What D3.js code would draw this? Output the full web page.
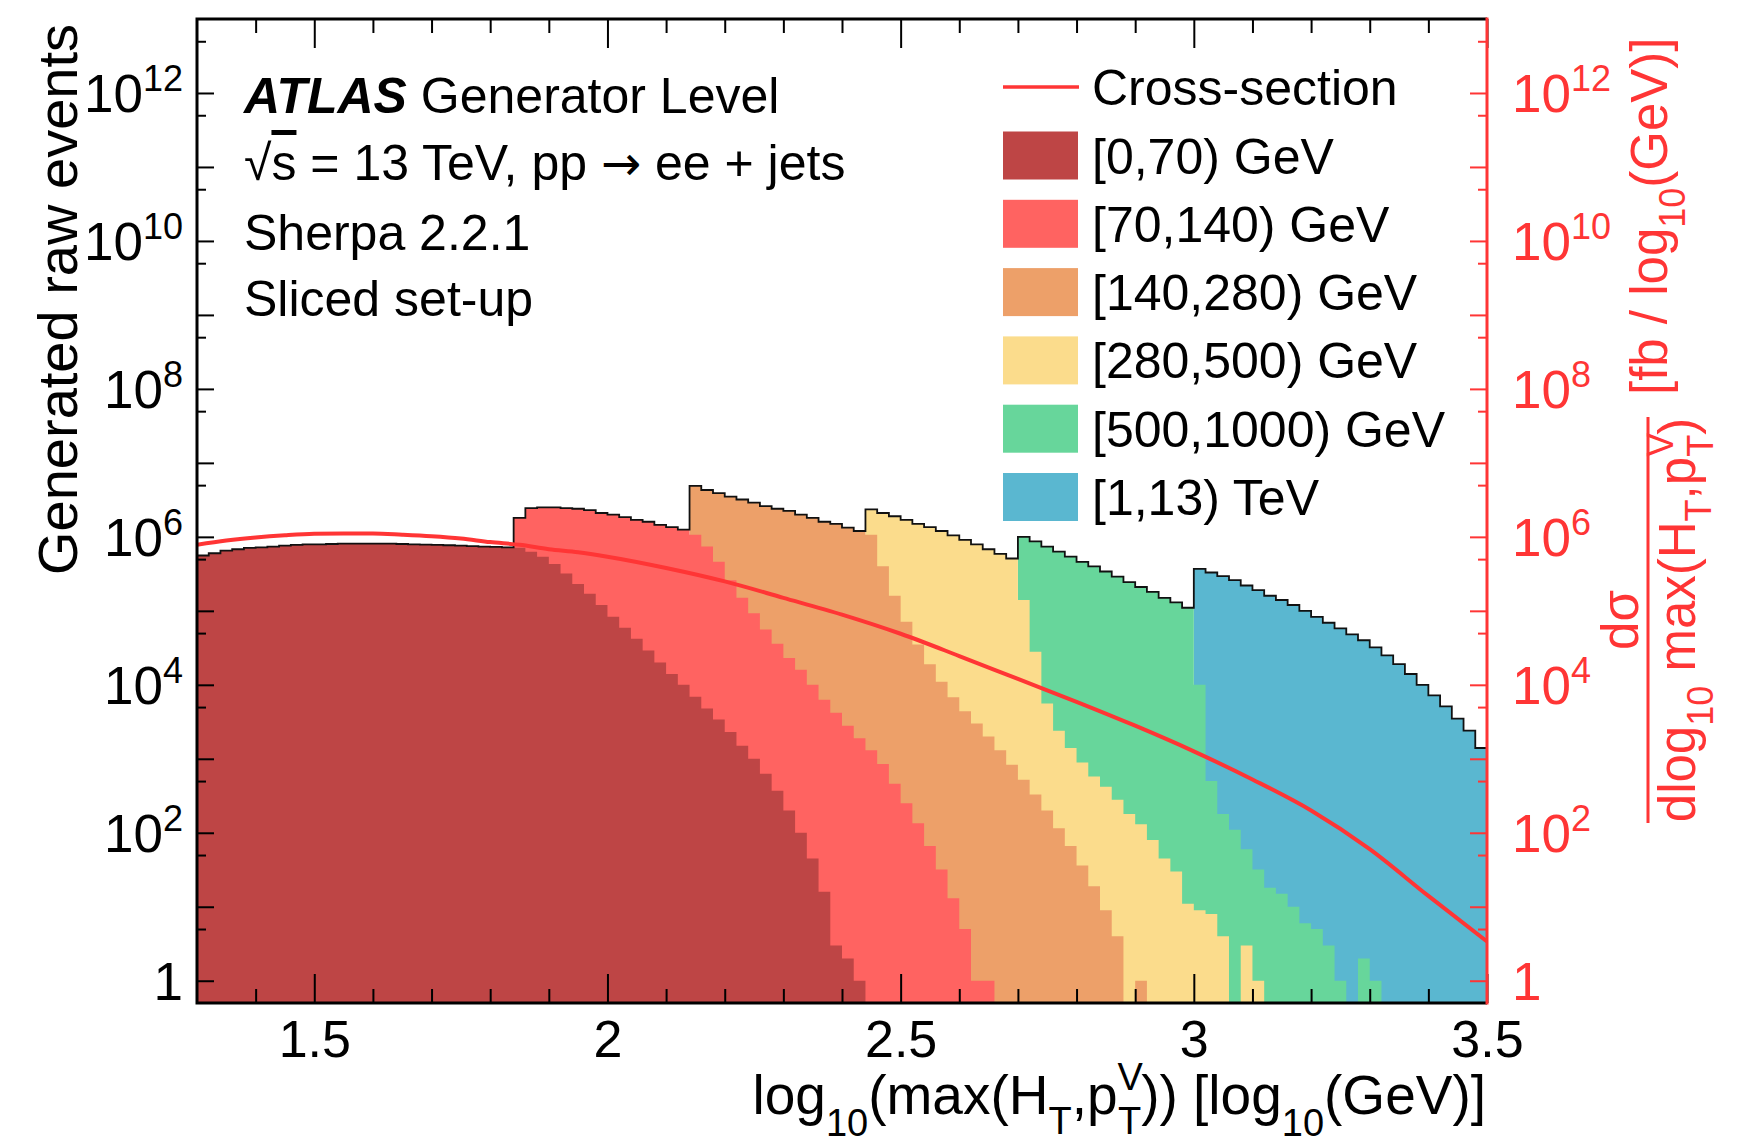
<!DOCTYPE html>
<html>
<head>
<meta charset="utf-8">
<script src="https://cdn.jsdelivr.net/npm/d3@7"></script>
<style>
body { margin: 0; background: #fff; }
text { font-family: "Liberation Sans", Arial, Helvetica, sans-serif; }
</style>
</head>
<body>
<div id="chart"></div>
<script>
// histogram binning in log10(max(HT,pTV))
var binWidth = 0.02;

var sliceNames = ['[0,70) GeV', '[70,140) GeV', '[140,280) GeV', '[280,500) GeV', '[500,1000) GeV', '[1,13) TeV'];
var sliceColors = ['#be4545', '#ff6361', '#eda069', '#fbdc8c', '#67d69b', '#5ab7d0'];
// lower edge of first filled bin for each slice
var sliceStart = [1.30, 1.84, 2.14, 2.44, 2.70, 3.00];

// raw generated events per bin
var events0 = [5.6e5, 6.0e5, 6.5e5, 6.8e5, 7.1e5, 7.2e5, 7.4e5, 7.6e5, 7.8e5, 7.9e5,
	7.9e5, 8.0e5, 8.1e5, 8.1e5, 8.1e5, 8.1e5, 8.1e5, 8.0e5, 7.9e5, 7.85e5,
	7.8e5, 7.7e5, 7.6e5, 7.5e5, 7.4e5, 7.3e5, 7.2e5, 7.1e5, 6.3e5, 5.4e5,
	4.3e5, 3.2e5, 2.3e5, 1.7e5, 1.2e5, 8.3e4, 5.9e4, 4.2e4, 2.9e4, 2.0e4,
	1.4e4, 1.0e4, 6.9e3, 4.8e3, 3.4e3, 2.3e3, 1.5e3, 1.0e3, 630, 370,
	200, 100, 45, 16, 3, 2, 1];
var events1 = [1.8e6, 2.45e6, 2.5e6, 2.5e6, 2.45e6, 2.4e6, 2.3e6, 2.1e6, 2.0e6, 1.85e6,
	1.7e6, 1.6e6, 1.45e6, 1.35e6, 1.25e6, 1.07e6, 7.4e5, 4.6e5, 2.6e5, 1.5e5,
	9.3e4, 5.6e4, 3.6e4, 2.3e4, 1.6e4, 1.0e4, 6.3e3, 4.2e3, 2.8e3, 1.9e3,
	1.3e3, 850, 460, 250, 135, 66, 32, 13, 5, 1, 1];
var events2 = [4.9e6, 4.3e6, 3.9e6, 3.5e6, 3.2e6, 2.9e6, 2.6e6, 2.4e6, 2.25e6, 2.0e6,
	1.8e6, 1.6e6, 1.5e6, 1.33e6, 1.2e6, 1.07e6, 4.0e5, 1.6e5, 7.1e4, 3.5e4,
	1.9e4, 1.1e4, 6.8e3, 4.4e3, 3.0e3, 2.0e3, 1.3e3, 830, 520, 330,
	200, 115, 66, 36, 19, 9, 4, 0, 1];
var events3 = [2.35e6, 2.1e6, 1.9e6, 1.7e6, 1.5e6, 1.35e6, 1.2e6, 1.05e6, 9.1e5, 7.9e5,
	6.8e5, 5.9e5, 5.1e5, 1.4e5, 2.8e4, 5.6e3, 2.4e3, 1.4e3, 890, 575,
	420, 280, 180, 130, 80, 45, 30, 11, 9, 8,
	4, 0, 3, 1];
var events4 = [1.0e6, 8.7e5, 7.4e5, 6.3e5, 5.4e5, 4.6e5, 4.0e5, 3.4e5, 2.9e5, 2.45e5,
	2.1e5, 1.8e5, 1.5e5, 1.3e5, 1.1e5, 1.0e4, 500, 180, 110, 60,
	32, 18, 15, 10, 6, 5, 3, 1, 0, 2, 1];
var events5 = [3.7e5, 3.3e5, 2.95e5, 2.6e5, 2.2e5, 1.9e5, 1.6e5, 1.4e5, 1.2e5, 1.0e5,
	8.3e4, 6.9e4, 5.8e4, 4.8e4, 4.0e4, 3.2e4, 2.5e4, 1.9e4, 1.4e4, 1.0e4,
	7.2e3, 5.1e3, 3.5e3, 2.4e3, 1.4e3];

// cross-section curve (fb / log10(GeV)), right axis
var xsecX = [1.30, 1.35, 1.40, 1.45, 1.50, 1.55, 1.60, 1.65, 1.70, 1.75, 1.80, 1.85, 1.90, 1.95, 2.00,
	2.10, 2.20, 2.30, 2.40, 2.50, 2.60, 2.70, 2.80, 2.90, 3.00, 3.10, 3.20, 3.30, 3.40, 3.50];
var xsecVal = [7.8e5, 8.9e5, 9.8e5, 1.05e6, 1.10e6, 1.11e6, 1.11e6, 1.07e6, 1.02e6, 9.5e5, 8.5e5, 7.8e5, 6.8e5, 6.2e5, 5.4e5,
	3.8e5, 2.5e5, 1.5e5, 8.9e4, 4.9e4, 2.45e4, 1.2e4, 5.9e3, 2.8e3, 1.26e3, 525, 200, 60, 14, 3.4];

var xMajor = [1.5, 2, 2.5, 3, 3.5];
var xMinor = [1.4, 1.6, 1.7, 1.8, 1.9, 2.1, 2.2, 2.3, 2.4, 2.6, 2.7, 2.8, 2.9, 3.1, 3.2, 3.3, 3.4];
var yDecades = [1, 1e1, 1e2, 1e3, 1e4, 1e5, 1e6, 1e7, 1e8, 1e9, 1e10, 1e11, 1e12];
var yFives = [5, 5e1, 5e2, 5e3, 5e4, 5e5, 5e6, 5e7, 5e8, 5e9, 5e10, 5e11, 5e12];
var yLabelPowers = [0, 2, 4, 6, 8, 10, 12];

var red = '#ff3535';
var font = '"Liberation Sans", Arial, Helvetica, sans-serif';

var svg = d3.select('#chart').append('svg').attr('width', 1738).attr('height', 1144);

var x = d3.scaleLinear().domain([1.3, 3.5]).range([197, 1487]);
var y = d3.scaleLog().domain([0.5, 1e13]).range([1003, 19]);
var bottom = y.range()[0];

svg.append('clipPath').attr('id', 'clip')
	.append('rect')
	.attr('x', x.range()[0]).attr('y', y.range()[1])
	.attr('width', x.range()[1] - x.range()[0])
	.attr('height', y.range()[0] - y.range()[1]);

var plot = svg.append('g').attr('clip-path', 'url(#clip)');

var sliceCounts = [events0, events1, events2, events3, events4, events5];

function binsOf(k) {
	var counts = sliceCounts[k];
	var pts = counts.map(function(c, i) {
		return { x: sliceStart[k] + i * binWidth, v: c };
	});
	pts.push({ x: sliceStart[k] + counts.length * binWidth, v: counts[counts.length - 1] });
	return pts;
}

var area = d3.area()
	.x(function(d) { return x(d.x); })
	.y0(bottom)
	.y1(function(d) { return d.v > 0 ? y(d.v) : bottom; })
	.curve(d3.curveStepAfter);

// last slice in the back, first slice in front
for (var k = sliceCounts.length - 1; k >= 0; k--) {
	plot.append('path')
		.attr('d', area(binsOf(k)))
		.attr('fill', sliceColors[k])
		.attr('stroke', 'none');
}

// top envelope outline
var nBins = Math.round((3.5 - 1.3) / binWidth);
var env = [];
for (var b = 0; b < nBins; b++) env.push({ x: 1.3 + b * binWidth, v: 0 });
sliceCounts.forEach(function(counts, k) {
	var off = Math.round((sliceStart[k] - 1.3) / binWidth);
	counts.forEach(function(c, i) {
		if (env[off + i] && c > env[off + i].v) env[off + i].v = c;
	});
});
env.push({ x: 3.5, v: env[env.length - 1].v });

plot.append('path')
	.attr('d', d3.line()
		.x(function(d) { return x(d.x); })
		.y(function(d) { return d.v > 0 ? y(d.v) : bottom; })
		.curve(d3.curveStepAfter)(env))
	.attr('fill', 'none')
	.attr('stroke', '#111')
	.attr('stroke-width', 1.8);

// cross-section
plot.append('path')
	.attr('d', d3.line()
		.x(function(d, i) { return x(xsecX[i]); })
		.y(function(d) { return y(d); })
		.curve(d3.curveMonotoneX)(xsecVal))
	.attr('fill', 'none')
	.attr('stroke', red)
	.attr('stroke-width', 4);

// ---- axes ----
function ticks(axis, transform, color) {
	var g = svg.append('g').attr('transform', transform).call(axis);
	g.select('.domain').remove();
	g.selectAll('line').attr('stroke', color).attr('stroke-width', 2);
	return g;
}

var xb = ticks(d3.axisBottom(x).tickValues(xMajor).tickSize(-29).tickPadding(17)
	.tickFormat(d3.format('~g')), 'translate(0,' + bottom + ')', '#000');
xb.attr('font-size', 52).attr('font-family', font);
xb.selectAll('text').attr('fill', '#000');
ticks(d3.axisBottom(x).tickValues(xMinor).tickSize(-14).tickFormat(''), 'translate(0,' + bottom + ')', '#000');
ticks(d3.axisTop(x).tickValues(xMajor).tickSize(-29).tickFormat(''), 'translate(0,' + y.range()[1] + ')', '#000');
ticks(d3.axisTop(x).tickValues(xMinor).tickSize(-14).tickFormat(''), 'translate(0,' + y.range()[1] + ')', '#000');

ticks(d3.axisLeft(y).tickValues(yDecades).tickSize(-17).tickFormat(''), 'translate(' + x.range()[0] + ',0)', '#000');
ticks(d3.axisLeft(y).tickValues(yFives).tickSize(-9).tickFormat(''), 'translate(' + x.range()[0] + ',0)', '#000');
ticks(d3.axisRight(y).tickValues(yDecades).tickSize(-17).tickFormat(''), 'translate(' + x.range()[1] + ',0)', red);
ticks(d3.axisRight(y).tickValues(yFives).tickSize(-9).tickFormat(''), 'translate(' + x.range()[1] + ',0)', red);

// frame
svg.append('path')
	.attr('d', 'M' + x.range()[1] + ',' + y.range()[1] + 'H' + x.range()[0] + 'V' + bottom + 'H' + x.range()[1])
	.attr('fill', 'none').attr('stroke', '#000').attr('stroke-width', 3);
svg.append('line')
	.attr('x1', x.range()[1]).attr('x2', x.range()[1])
	.attr('y1', y.range()[1] - 1.5).attr('y2', bottom + 1.5)
	.attr('stroke', red).attr('stroke-width', 3);

function powLabel(sel, p) {
	if (p === 0) { sel.text('1'); return; }
	sel.append('tspan').text('10');
	sel.append('tspan').attr('dy', -21).attr('font-size', 36).text(p);
}

yLabelPowers.forEach(function(p) {
	svg.append('text')
		.attr('x', 183).attr('y', y(Math.pow(10, p)) + 19)
		.attr('text-anchor', 'end').attr('font-size', 53).attr('fill', '#000')
		.call(powLabel, p);
	svg.append('text')
		.attr('x', 1512).attr('y', y(Math.pow(10, p)) + 19)
		.attr('font-size', 53).attr('fill', red)
		.call(powLabel, p);
});

// axis titles
svg.append('text')
	.attr('transform', 'translate(77,24) rotate(-90)')
	.attr('text-anchor', 'end').attr('font-size', 56)
	.text('Generated raw events');

function rich(sel, parts) {
	parts.forEach(function(p) {
		var t = sel.append('tspan').text(p.t);
		if (p.size) t.attr('font-size', p.size);
		if (p.dy) t.attr('dy', p.dy);
		if (p.dx) t.attr('dx', p.dx);
	});
}

svg.append('text')
	.attr('x', 1486).attr('y', 1114)
	.attr('text-anchor', 'end').attr('font-size', 55)
	.call(rich, [
		{ t: 'log' },
		{ t: '10', size: 38, dy: 22 },
		{ t: '(max(H', dy: -22 },
		{ t: 'T', size: 38, dy: 20 },
		{ t: ',p', dy: -20 },
		{ t: 'V', size: 38, dy: -24 },
		{ t: 'T', size: 38, dy: 44, dx: -25 },
		{ t: ')) [log', dy: -20 },
		{ t: '10', size: 38, dy: 22 },
		{ t: '(GeV)]', dy: -22 }
	]);

// right title: fraction rotated
var rt = svg.append('g').attr('transform', 'translate(1648,823) rotate(-90)').attr('fill', red);
rt.append('line').attr('x1', 0).attr('x2', 406).attr('y1', 0).attr('y2', 0)
	.attr('stroke', red).attr('stroke-width', 3);
rt.append('text').attr('x', 203).attr('y', -10).attr('text-anchor', 'middle').attr('font-size', 51)
	.text('dσ');
rt.append('text').attr('x', 203).attr('y', 47).attr('text-anchor', 'middle').attr('font-size', 51)
	.call(rich, [
		{ t: 'dlog' },
		{ t: '10', size: 36, dy: 18 },
		{ t: ' max(H', dy: -18 },
		{ t: 'T', size: 36, dy: 16 },
		{ t: ',p', dy: -16 },
		{ t: 'V', size: 36, dy: -22 },
		{ t: 'T', size: 36, dy: 40, dx: -24 },
		{ t: ')', dy: -18 }
	]);
rt.append('text').attr('x', 428).attr('y', 19).attr('font-size', 51)
	.call(rich, [
		{ t: '[fb / log' },
		{ t: '10', size: 36, dy: 18 },
		{ t: '(GeV)]', dy: -18 }
	]);

// labels
var info = svg.append('g').attr('font-size', 50).attr('fill', '#000');
info.append('text').attr('x', 244).attr('y', 113)
	.call(function(t) {
		t.append('tspan').attr('font-weight', 'bold').attr('font-style', 'italic').text('ATLAS');
		t.append('tspan').text(' Generator Level');
	});
info.append('text').attr('x', 244).attr('y', 180)
	.call(function(t) {
		t.append('tspan').text('√');
		t.append('tspan').style('text-decoration', 'overline').text('s');
		t.append('tspan').text(' = 13 TeV, pp ');
		t.append('tspan').attr('font-family', '"DejaVu Sans"').attr('font-size', 48).text('→');
		t.append('tspan').text(' ee + jets');
	});
info.append('text').attr('x', 244).attr('y', 250).text('Sherpa 2.2.1');
info.append('text').attr('x', 244).attr('y', 316).text('Sliced set-up');

// legend
var legend = svg.append('g').attr('font-size', 50);
legend.append('line')
	.attr('x1', 1003).attr('x2', 1079).attr('y1', 87).attr('y2', 87)
	.attr('stroke', red).attr('stroke-width', 3.5);
legend.append('text').attr('x', 1092).attr('y', 105).text('Cross-section');

sliceNames.forEach(function(name, i) {
	var cy = 155.5 + i * 68.3;
	legend.append('rect')
		.attr('x', 1003).attr('y', cy - 24).attr('width', 75).attr('height', 48)
		.attr('fill', sliceColors[i]);
	legend.append('text').attr('x', 1092).attr('y', cy + 18).text(name);
});
</script>
</body>
</html>
